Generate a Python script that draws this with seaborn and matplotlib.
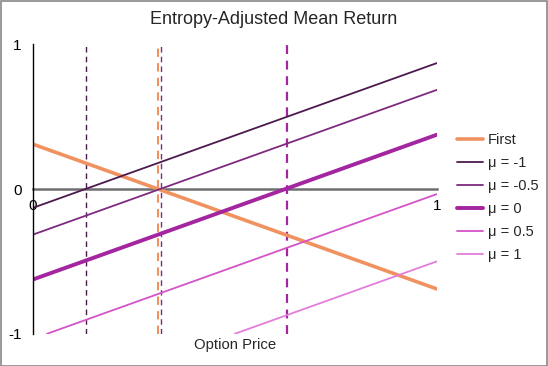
import matplotlib
matplotlib.use("Agg")
import matplotlib.pyplot as plt
import seaborn as sns
import pandas as pd
from matplotlib.patches import Rectangle

# ---- data ----
labels = ["First", "μ = -1", "μ = -0.5", "μ = 0", "μ = 0.5", "μ = 1"]
x_start = [0.0, 0.0, 0.0, 0.0, 0.035, 0.5]
x_end = [1.0, 1.0, 1.0, 1.0, 1.0, 1.0]
y_start = [0.31, -0.13, -0.315, -0.625, -1.0, -1.0]
y_end = [-0.69, 0.87, 0.685, 0.375, -0.035, -0.5]
colors = ["#f0925f", "#4d1a4f", "#7e2a7e", "#a3259f", "#d453c9", "#e27ddb"]
widths = [2.6, 1.3, 1.3, 2.8, 1.3, 1.3]
# zero crossings (vertical dashed markers)
vline_x = [0.131, 0.309, 0.317, 0.629]
vline_colors = ["#4d1a4f", "#f0925f", "#7e2a7e", "#a3259f"]
vline_widths = [1.0, 1.5, 1.0, 1.6]
x_ticks = [0, 1]
y_ticks = [-1, 0, 1]

rows = []
for lab, xs, xe, ys, ye in zip(labels, x_start, x_end, y_start, y_end):
    rows.append({"series": lab, "x": xs, "y": ys})
    rows.append({"series": lab, "x": xe, "y": ye})
df = pd.DataFrame(rows)

sns.set_style("white")
plt.rcParams["font.family"] = ["Liberation Sans", "DejaVu Sans"]

fig = plt.figure(figsize=(5.48, 3.66), dpi=100)
ax = fig.add_axes([0.060, 0.088, 0.737, 0.791])

for lab, c, w in zip(labels, colors, widths):
    sns.lineplot(data=df[df.series == lab], x="x", y="y", color=c, linewidth=w,
                 ax=ax, label=lab, estimator=None, sort=False)

for vx, vc, vw in zip(vline_x, vline_colors, vline_widths):
    ax.plot([vx, vx], [-1, 1], color=vc, lw=vw, ls=(0, (4, 3)), zorder=1)

ax.set_xlim(0, 1)
ax.set_ylim(-1, 1)
ax.spines["top"].set_visible(False)
ax.spines["right"].set_visible(False)
ax.spines["bottom"].set_position(("data", 0))
ax.spines["bottom"].set_color("#6e6e6e")
ax.spines["bottom"].set_linewidth(1.8)
ax.spines["bottom"].set_zorder(0.5)
ax.spines["left"].set_color("black")
ax.spines["left"].set_linewidth(1.0)
ax.set_xticks(x_ticks)
ax.set_xticklabels([str(t) for t in x_ticks])
ax.set_yticks(y_ticks)
ax.set_yticklabels([str(t) for t in y_ticks])
ax.tick_params(axis="both", direction="out", length=5, width=1, labelsize=11, colors="black", pad=3)
ax.tick_params(axis="x", pad=2)
ax.set_xlabel("")
ax.set_ylabel("")
fig.text(274 / 548, 1 - 19 / 366, "Entropy-Adjusted Mean Return", ha="center", va="center", fontsize=13)
fig.text(235 / 548, 1 - 345 / 366, "Option Price", ha="center", va="center", fontsize=10.7)

leg = ax.legend(loc="upper left", bbox_to_anchor=(457 / 548, 1 - 133 / 366),
                bbox_transform=fig.transFigure, frameon=False, fontsize=10.5,
                handlelength=1.75, labelspacing=0.62, handletextpad=0.35,
                borderaxespad=0, borderpad=0)

fig.patches.append(Rectangle((0.001, 0.001), 0.997, 0.997, transform=fig.transFigure,
                             fill=False, edgecolor="#888888", lw=1.2))

fig.savefig("out.png", dpi=100)
